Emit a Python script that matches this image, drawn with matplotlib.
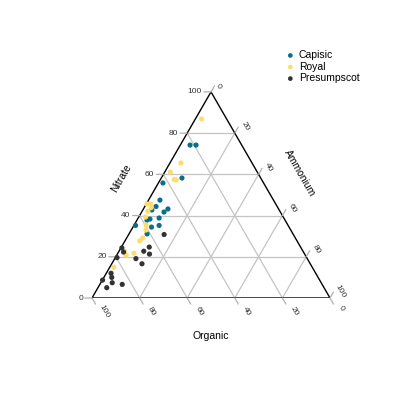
import numpy as np
import matplotlib
matplotlib.use("Agg")
import matplotlib.pyplot as plt

plt.rcParams['font.family'] = ['Liberation Sans', 'DejaVu Sans']

# ---- data (percent) ----
capisic_nitrate = [74.2, 74.2, 58.2, 55.8, 47.5, 44.4, 43.2, 41.7, 42.7, 38.3, 37.8, 38.8, 35.2, 34.4, 35.2, 31.1]
capisic_ammonium = [4.1, 6.6, 8.7, 1.9, 4.8, 4.7, 10.3, 9.4, 3.8, 5.2, 4.2, 8.8, 0.7, 7.8, 10.6, 7.6]
capisic_organic = [21.7, 19.2, 33.1, 42.3, 47.7, 50.9, 46.5, 48.9, 53.5, 56.5, 58.0, 52.4, 64.1, 57.8, 54.2, 61.3]

royal_nitrate = [86.9, 65.5, 61.1, 57.5, 57.3, 45.6, 45.6, 43.9, 42.2, 39.3, 35.4, 33.0, 29.1, 27.7, 22.5, 20.7, 21.7, 14.9]
royal_ammonium = [2.6, 4.6, 2.4, 5.8, 6.7, 0.3, 1.8, 2.9, 2.4, 2.8, 5.0, 6.2, 6.8, 6.2, 2.4, 4.0, 6.8, 1.7]
royal_organic = [10.5, 29.9, 36.5, 36.7, 36.0, 54.1, 52.6, 53.2, 55.4, 57.9, 59.6, 60.8, 64.1, 66.1, 75.1, 75.3, 71.5, 83.4]

presumpscot_nitrate = [30.8, 24.7, 22.7, 21.3, 24.3, 22.3, 19.6, 19.1, 16.6, 12.0, 10.0, 8.7, 7.4, 6.6, 5.0]
presumpscot_ammonium = [14.9, 11.7, 10.4, 13.5, 0.4, 2.1, 0.7, 8.9, 12.7, 2.0, 3.3, 0.1, 4.8, 9.4, 3.7]
presumpscot_organic = [54.3, 63.6, 66.9, 65.2, 75.3, 75.6, 79.7, 72.0, 70.7, 86.0, 86.7, 91.2, 87.8, 84.0, 91.3]

series_names = ["Capisic", "Royal", "Presumpscot"]
series_colors = ["#0b6f8c", "#fddc6c", "#333333"]
tick_values = [0, 20, 40, 60, 80, 100]

S3 = np.sqrt(3) / 2


def tern(n, a, o):
    n = np.asarray(n, float); a = np.asarray(a, float); o = np.asarray(o, float)
    tot = n + a + o
    x = (a + n / 2) / tot
    y = n / tot * S3
    return x, y


PX = 0.72  # points per pixel at dpi 100

fig = plt.figure(figsize=(4, 4), dpi=100)
ax = fig.add_axes([92 / 400, (400 - 298) / 400, 238 / 400, 206.1 / 400])
ax.set_xlim(0, 1)
ax.set_ylim(0, S3)
ax.axis('off')

grid_c = '#c4c4c4'
tick_c = '#b0b0b0'
lab_c = '#333333'

# gridlines
for v in [20, 40, 60, 80]:
    x1, y1 = tern(v, 0, 100 - v); x2, y2 = tern(v, 100 - v, 0)
    ax.plot([x1, x2], [y1, y2], color=grid_c, lw=0.9, zorder=1)
    x1, y1 = tern(0, v, 100 - v); x2, y2 = tern(100 - v, v, 0)
    ax.plot([x1, x2], [y1, y2], color=grid_c, lw=0.9, zorder=1)
    x1, y1 = tern(0, 100 - v, v); x2, y2 = tern(100 - v, 0, v)
    ax.plot([x1, x2], [y1, y2], color=grid_c, lw=0.9, zorder=1)

# triangle
tx, ty = tern([0, 0, 100, 0], [0, 100, 0, 0], [100, 0, 0, 100])
ax.plot(tx, ty, color='black', lw=1.0, zorder=2, solid_joinstyle='miter')

tick_len = 7 * PX
c60, s60 = 0.5, S3
for v in tick_values:
    # nitrate ticks on left edge
    x, y = tern(v, 0, 100 - v)
    ax.annotate('', xy=(x, y), xytext=(-tick_len, 0), textcoords='offset points',
                arrowprops=dict(arrowstyle='-', color=tick_c, lw=0.9, shrinkA=0, shrinkB=0),
                annotation_clip=False)
    ax.annotate(str(v), xy=(x, y), xytext=(-9 * PX, 0), textcoords='offset points',
                ha='right', va='center', fontsize=6, color=lab_c, annotation_clip=False)
    # ammonium ticks on right edge
    x, y = tern(100 - v, v, 0)
    ax.annotate('', xy=(x, y), xytext=(tick_len * c60, tick_len * s60), textcoords='offset points',
                arrowprops=dict(arrowstyle='-', color=tick_c, lw=0.9, shrinkA=0, shrinkB=0),
                annotation_clip=False)
    off = (7 * PX, 6 * PX) if v == 0 else (10 * PX, 7 * PX)
    ax.annotate(str(v), xy=(x, y), xytext=off, textcoords='offset points',
                ha='center', va='center', rotation=-60, fontsize=6, color=lab_c,
                annotation_clip=False)
    # organic ticks on bottom edge
    x, y = tern(0, 100 - v, v)
    ax.annotate('', xy=(x, y), xytext=(tick_len * c60, -tick_len * s60), textcoords='offset points',
                arrowprops=dict(arrowstyle='-', color=tick_c, lw=0.9, shrinkA=0, shrinkB=0),
                annotation_clip=False)
    off = (11 * PX, -10 * PX) if v == 0 else (12 * PX, -13 * PX)
    ax.annotate(str(v), xy=(x, y), xytext=off, textcoords='offset points',
                ha='center', va='center', rotation=-60, fontsize=6, color=lab_c,
                annotation_clip=False)

# axis titles
mx, my = tern(50, 0, 50)
ax.annotate('Nitrate', xy=(mx, my), xytext=(-30 * PX, 17 * PX), textcoords='offset points',
            ha='center', va='center', rotation=60, fontsize=7.5, color='black', annotation_clip=False)
mx, my = tern(50, 50, 0)
ax.annotate('Ammonium', xy=(mx, my), xytext=(29 * PX, 22 * PX), textcoords='offset points',
            ha='center', va='center', rotation=-60, fontsize=7.5, color='black', annotation_clip=False)
mx, my = tern(0, 50, 50)
ax.annotate('Organic', xy=(mx, my), xytext=(0, -38 * PX), textcoords='offset points',
            ha='center', va='center', fontsize=7.5, color='black', annotation_clip=False)

# points
data = [(capisic_nitrate, capisic_ammonium, capisic_organic),
        (royal_nitrate, royal_ammonium, royal_organic),
        (presumpscot_nitrate, presumpscot_ammonium, presumpscot_organic)]
handles = []
for (n, a, o), name, col in zip(data, series_names, series_colors):
    x, y = tern(n, a, o)
    h = ax.scatter(x, y, s=14, color=col, edgecolors='none', zorder=3, clip_on=False, label=name)
    handles.append(h)

fig.legend(handles=handles, labels=series_names, loc='upper left',
           bbox_to_anchor=(282 / 400, 1 - 45 / 400), frameon=False, fontsize=7.5,
           handlelength=0.6, handletextpad=0.5, labelspacing=0.15, borderpad=0,
           markerscale=0.9)

fig.savefig('out.png', dpi=100, facecolor='white')
